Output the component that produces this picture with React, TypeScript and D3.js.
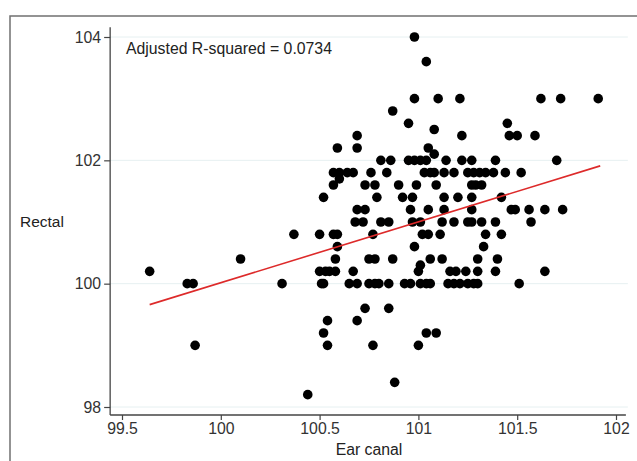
import React, { useEffect, useRef } from 'react'
import * as d3 from 'd3'

// rectal temperature rows, with the ear canal readings found on each row
const rectalRows = [
  104, 103.6, 103, 102.8, 102.6, 102.5, 102.4, 102.2, 102.1, 102, 101.8, 101.7,
  101.6, 101.4, 101.2, 101, 100.8, 100.6, 100.4, 100.3, 100.2, 100, 99.6, 99.4,
  99.2, 99, 98.4, 98.2,
]
const earByRow = [
  [100.98],
  [101.04],
  [100.98, 101.1, 101.21, 101.62, 101.72, 101.91],
  [100.87],
  [100.95, 101.45],
  [101.08],
  [100.69, 101.22, 101.46, 101.5, 101.59],
  [100.59, 100.69, 101.05],
  [101.08],
  [100.81, 100.86, 100.95, 100.98, 101.01, 101.04, 101.14, 101.22, 101.27, 101.39, 101.7],
  [100.57, 100.6, 100.64, 100.67, 100.76, 100.84, 101.03, 101.06, 101.08, 101.13, 101.18,
    101.25, 101.28, 101.31, 101.34, 101.38, 101.44, 101.52],
  [100.6],
  [100.57, 100.73, 100.78, 100.9, 100.99, 101.09, 101.27, 101.29, 101.32],
  [100.52, 100.79, 100.92, 100.97, 101.13, 101.2, 101.27, 101.42],
  [100.69, 100.73, 100.96, 101.05, 101.13, 101.27, 101.47, 101.49, 101.56, 101.64, 101.73],
  [100.68, 100.72, 100.81, 100.85, 100.97, 101.01, 101.12, 101.18, 101.25, 101.27, 101.32,
    101.39, 101.57],
  [100.37, 100.5, 100.57, 100.59, 100.77, 101.02, 101.05, 101.11, 101.34, 101.42],
  [100.59, 100.98, 101.33],
  [100.1, 100.58, 100.75, 100.78, 100.87, 101.06, 101.12, 101.3, 101.4],
  [101.01],
  [99.64, 100.5, 100.53, 100.55, 100.58, 100.67, 101.0, 101.16, 101.19, 101.24, 101.3,
    101.39, 101.64],
  [99.83, 99.86, 100.31, 100.51, 100.52, 100.65, 100.69, 100.75, 100.78, 100.8, 100.85,
    100.93, 100.96, 101.01, 101.04, 101.06, 101.15, 101.18, 101.21, 101.25, 101.28, 101.3,
    101.51],
  [100.73, 100.85],
  [100.54, 100.69],
  [100.52, 101.04, 101.09],
  [99.87, 100.54, 100.77, 101.0],
  [100.88],
  [100.44],
]

// fitted line, read at the ends of the data
const fitEar = [99.64, 101.92]
const fitRectal = [99.66, 101.91]

const xTicks = [99.5, 100, 100.5, 101, 101.5, 102]
const yTicks = [98, 100, 102, 104]
const xAxisExtent = [99.44, 102.05]
const yAxisExtent = [97.87, 104.16]
const gridEnd = 102.06

const W = 637
const H = 461
const FONT = '"Liberation Sans", Arial, sans-serif'

export default function App () {
  const ref = useRef(null)

  useEffect(() => {
    const svg = d3.select(ref.current)
    svg.selectAll('*').remove()

    const x = d3.scaleLinear().domain([99.5, 102]).range([122, 616])
    const y = d3.scaleLinear().domain([98, 104]).range([407, 37])

    const points = []
    rectalRows.forEach((r, i) => earByRow[i].forEach(e => points.push({ ear: e, rectal: r })))

    // outer frame (right and bottom edges fall outside the picture)
    svg.append('rect')
      .attr('x', 10).attr('y', 16)
      .attr('width', W + 20).attr('height', H + 20)
      .attr('fill', 'none').attr('stroke', '#707070').attr('stroke-width', 1.5)

    // grid
    svg.append('g').selectAll('line').data(yTicks).enter().append('line')
      .attr('x1', x(xAxisExtent[0])).attr('x2', x(gridEnd))
      .attr('y1', d => y(d)).attr('y2', d => y(d))
      .attr('stroke', '#e6f0f1').attr('stroke-width', 1)

    // y axis
    const yAxis = svg.append('g')
      .attr('transform', `translate(${x(xAxisExtent[0])},0)`)
      .call(d3.axisLeft(y).tickValues(yTicks).tickSize(6).tickPadding(3).tickFormat(d3.format('d')))
    yAxis.select('.domain').remove()
    yAxis.append('line')
      .attr('y1', y(yAxisExtent[0])).attr('y2', y(yAxisExtent[1]))
      .attr('stroke', '#444').attr('stroke-width', 1.3)

    // x axis
    const xAxis = svg.append('g')
      .attr('transform', `translate(0,${y(yAxisExtent[0])})`)
      .call(d3.axisBottom(x).tickValues(xTicks).tickSize(5).tickPadding(3).tickFormat(d => String(d)))
    xAxis.select('.domain').remove()
    xAxis.append('line')
      .attr('x1', x(xAxisExtent[0])).attr('x2', x(xAxisExtent[1]))
      .attr('stroke', '#444').attr('stroke-width', 1.3)

    svg.selectAll('.tick line').attr('stroke', '#444').attr('stroke-width', 1.2)
    svg.selectAll('.tick text')
      .attr('fill', '#333').style('font-family', FONT).style('font-size', '15.8px')

    // points
    svg.append('g').selectAll('circle').data(points).enter().append('circle')
      .attr('cx', d => x(d.ear)).attr('cy', d => y(d.rectal))
      .attr('r', 4.8).attr('fill', '#000')

    // fitted line
    const line = d3.line().x(d => x(d[0])).y(d => y(d[1]))
    svg.append('path')
      .attr('d', line(fitEar.map((e, i) => [e, fitRectal[i]])))
      .attr('fill', 'none').attr('stroke', '#dd2a2a').attr('stroke-width', 1.6)

    // labels
    svg.append('text')
      .attr('x', 126).attr('y', 54)
      .attr('fill', '#222').style('font-family', FONT).style('font-size', '15.8px')
      .text('Adjusted R-squared = 0.0734')
    svg.append('text')
      .attr('x', 20).attr('y', 227)
      .attr('fill', '#222').style('font-family', FONT).style('font-size', '15.5px')
      .text('Rectal')
    svg.append('text')
      .attr('x', (x(99.5) + x(102)) / 2).attr('y', 455)
      .attr('text-anchor', 'middle')
      .attr('fill', '#222').style('font-family', FONT).style('font-size', '15.8px')
      .text('Ear canal')
  }, [])

  return (
    <svg ref={ref} width={W} height={H}
      style={{ position: 'absolute', left: 0, top: 0, background: '#fff' }} />
  )
}
